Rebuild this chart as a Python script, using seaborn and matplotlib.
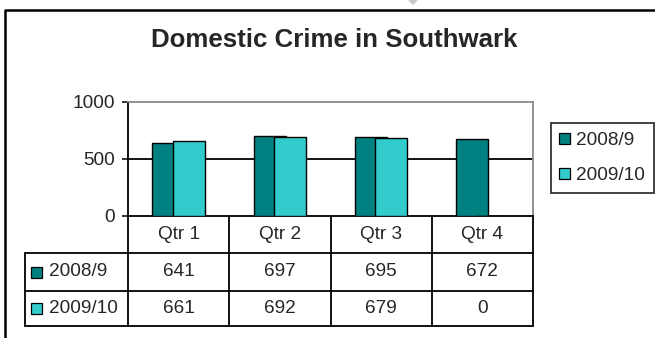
import numpy as np
import pandas as pd
import matplotlib
matplotlib.use("Agg")
import matplotlib.pyplot as plt
import matplotlib.transforms as mtransforms
from matplotlib.patches import Rectangle, Patch, Polygon
from matplotlib.lines import Line2D
import seaborn as sns

# ---- data ----
quarters = ["Qtr 1", "Qtr 2", "Qtr 3", "Qtr 4"]
series_names = ["2008/9", "2009/10"]
crimes_2008_9 = [641, 697, 695, 672]
crimes_2009_10 = [661, 692, 679, 0]
y_ticks = [0, 500, 1000]
title = "Domestic Crime in Southwark"

series_values = [crimes_2008_9, crimes_2009_10]
series_colors = ["#008080", "#33CCCC"]
bar_offsets = [-0.1, 0.1]

sns.set_style("white")
plt.rcParams["font.family"] = ["Liberation Sans", "DejaVu Sans"]

W, H = 655, 338
fig = plt.figure(figsize=(W / 100, H / 100), dpi=100)
fig.patch.set_facecolor("white")


def fx(px):
    return px / W


def fy(py):
    return 1 - py / H


# plot area in pixel units
left, right, top, bottom = 128, 533, 102, 215.7
ax = fig.add_axes([fx(left), fy(bottom), fx(right - left), (bottom - top) / H])

# overlapping clustered bars, later series drawn on top
for i, (name, vals, color, off) in enumerate(zip(series_names, series_values,
                                                 series_colors, bar_offsets)):
    df = pd.DataFrame({"pos": np.arange(len(quarters)) + off, "value": vals})
    sns.barplot(data=df, x="pos", y="value", native_scale=True, width=0.32,
                color=color, saturation=1, edgecolor="black", linewidth=1.0,
                errorbar=None, ax=ax, zorder=3 + i)

ax.set_xlim(-0.5, len(quarters) - 0.5)
ax.set_ylim(y_ticks[0], y_ticks[-1])
ax.set_xticks([])
ax.set_yticks(y_ticks)
ax.set_xlabel("")
ax.set_ylabel("")
ax.tick_params(axis="y", direction="out", length=4.3, width=1.1,
               color="black", labelsize=13.7, pad=5, left=True)
ax.axhline(y_ticks[1], color="black", lw=1.3, zorder=1)
for side in ("left", "bottom"):
    ax.spines[side].set_color("black")
    ax.spines[side].set_linewidth(1.3)
for side in ("top", "right"):
    ax.spines[side].set_color("#8a8a8a")
    ax.spines[side].set_linewidth(1.3)

# ---- data table under the plot ----
trans = mtransforms.blended_transform_factory(ax.transData, fig.transFigure)
row_edges = [bottom, 253.3, 290.7, 326]
label_left = 25.3
lw_tab = 1.3

for y in row_edges[1:]:
    fig.add_artist(Line2D([fx(label_left), fx(right)], [fy(y), fy(y)],
                          color="black", lw=lw_tab, transform=fig.transFigure))
fig.add_artist(Line2D([fx(label_left), fx(label_left)],
                      [fy(row_edges[1]), fy(row_edges[-1])],
                      color="black", lw=lw_tab, transform=fig.transFigure))
for k in range(len(quarters) + 1):
    xk = k - 0.5
    fig.add_artist(Line2D([xk, xk], [fy(row_edges[0]), fy(row_edges[-1])],
                          color="black", lw=lw_tab, transform=trans))

tab_fs = 13.7
hdr_y = (row_edges[0] + row_edges[1]) / 2
for i, q in enumerate(quarters):
    fig.text(i, fy(hdr_y), q, transform=trans, ha="center", va="center",
             fontsize=tab_fs)

for r, (name, vals, color) in enumerate(zip(series_names, series_values,
                                            series_colors)):
    yc = (row_edges[r + 1] + row_edges[r + 2]) / 2
    for i, v in enumerate(vals):
        fig.text(i, fy(yc), f"{v}", transform=trans, ha="center",
                 va="center", fontsize=tab_fs)
    sq = 11
    fig.add_artist(Rectangle((fx(30.7), fy(yc + sq / 2)), sq / W, sq / H,
                             facecolor=color, edgecolor="black", lw=0.9,
                             transform=fig.transFigure))
    fig.text(fx(48.5), fy(yc), name, ha="left", va="center", fontsize=tab_fs)

# ---- legend ----
handles = [Patch(facecolor=c, edgecolor="black", lw=0.9) for c in series_colors]
leg = fig.legend(handles, series_names, loc="upper left",
                 bbox_to_anchor=(fx(550.5), fy(123.3)),
                 bbox_transform=fig.transFigure, borderaxespad=0,
                 fontsize=tab_fs, frameon=True, fancybox=False,
                 edgecolor="black", borderpad=0.47, labelspacing=0.95,
                 handlelength=0.58, handleheight=0.55, handletextpad=0.3)
leg.get_frame().set_linewidth(1.3)

# ---- title and chart frame ----
fig.text(fx(334), fy(40), title, ha="center", va="center",
         fontsize=18.6, fontweight="bold")
fig.add_artist(Line2D([fx(5), fx(5), fx(W + 5)], [fy(H + 5), fy(10), fy(10)],
                      color="black", lw=1.8, transform=fig.transFigure))
fig.add_artist(Polygon([(fx(408), fy(0)), (fx(418), fy(0)), (fx(413), fy(5))],
                       closed=True, facecolor="#c8c8c8", edgecolor="none",
                       transform=fig.transFigure))

fig.savefig("out.png", dpi=100, facecolor="white")
